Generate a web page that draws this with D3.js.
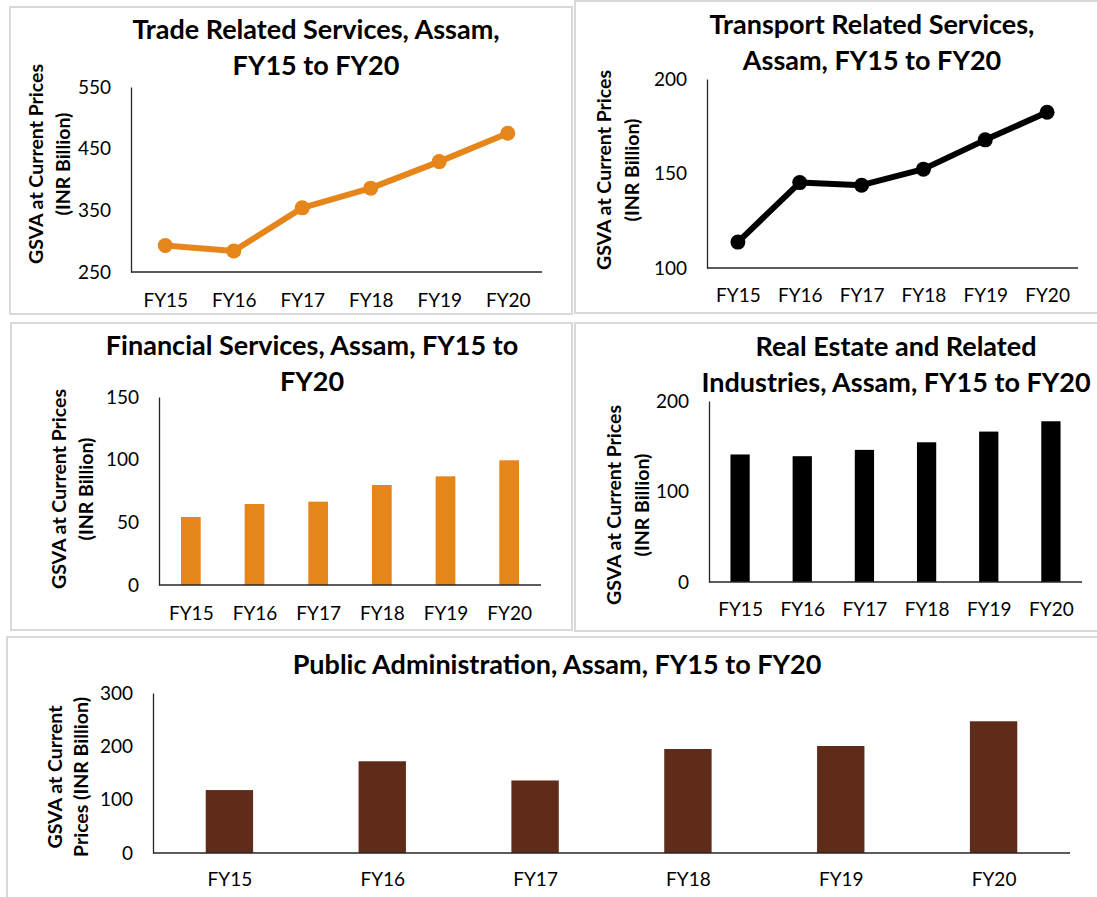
<!DOCTYPE html>
<html>
<head>
<meta charset="utf-8">
<script src="https://cdn.jsdelivr.net/npm/d3@7"></script>
<style>
  body { margin: 0; background: #fff; }
  svg { display: block; font-family: Lato, "Open Sans", sans-serif; }
  .tick text { font-size: 19px; fill: #000; }
  .title { font-weight: bold; font-size: 27px; fill: #000; }
  .ytitle { font-weight: bold; font-size: 19.5px; fill: #000; }
</style>
</head>
<body>
<div id="chart"></div>
<script>
// data
var years = ["FY15", "FY16", "FY17", "FY18", "FY19", "FY20"]
var trade = [293, 284, 354, 386, 429, 475]
var transport = [113.7, 145.2, 143.8, 152.3, 167.8, 182.4]
var financial = [54.3, 64.6, 66.5, 79.8, 86.7, 99.5]
var realEstate = [140.9, 139, 146, 154.4, 166.2, 177.6]
var publicAdmin = [118, 172, 136, 195, 200.6, 247]

var tradeTicks = [250, 350, 450, 550]
var transportTicks = [100, 150, 200]
var financialTicks = [0, 50, 100, 150]
var realEstateTicks = [0, 100, 200]
var publicAdminTicks = [0, 100, 200, 300]

var orange = "#E6851A"
var brown = "#5E2C18"

var width = 1097
var height = 897

var svg = d3.select("#chart")
    .append("svg")
    .attr("width", width)
    .attr("height", height)

// each panel: frame, plot area, titles
var panels = [
  {
    kind: "line", values: trade, ticks: tradeTicks, color: orange,
    box: [10, 7, 562, 307],
    x0: 131, x1: 542, yTop: 87, yBot: 272,
    title: ["Trade Related Services, Assam,", "FY15 to FY20"], titleX: 316, titleY: [39, 75],
    yTitle: ["GSVA at Current Prices", "(INR Billion)"], yTitleX: [36, 63], yTitleY: 164,
    labelY: 307
  },
  {
    kind: "line", values: transport, ticks: transportTicks, color: "#000",
    box: [575, 1, 530, 312],
    x0: 707, x1: 1078, yTop: 79, yBot: 268,
    title: ["Transport Related Services,", "Assam, FY15 to FY20"], titleX: 872, titleY: [34, 70],
    yTitle: ["GSVA at Current Prices", "(INR Billion)"], yTitleX: [604, 632], yTitleY: 170,
    labelY: 302
  },
  {
    kind: "bar", values: financial, ticks: financialTicks, color: orange,
    box: [11, 323, 561, 307],
    x0: 159, x1: 541, yTop: 397, yBot: 585,
    title: ["Financial Services, Assam, FY15 to", "FY20"], titleX: 312, titleY: [355, 391],
    yTitle: ["GSVA at Current Prices", "(INR Billion)"], yTitleX: [59, 86], yTitleY: 489,
    labelY: 620
  },
  {
    kind: "bar", values: realEstate, ticks: realEstateTicks, color: "#000",
    box: [575, 323, 530, 308],
    x0: 709, x1: 1082, yTop: 401, yBot: 582,
    title: ["Real Estate and Related", "Industries, Assam, FY15 to FY20"], titleX: 896, titleY: [356, 392],
    yTitle: ["GSVA at Current Prices", "(INR Billion)"], yTitleX: [614, 642], yTitleY: 505,
    labelY: 616
  },
  {
    kind: "bar", values: publicAdmin, ticks: publicAdminTicks, color: brown,
    box: [7, 637, 1100, 270],
    x0: 153, x1: 1070, yTop: 693, yBot: 853,
    title: ["Public Administration, Assam, FY15 to FY20"], titleX: 557, titleY: [674],
    yTitle: ["GSVA at Current", "Prices (INR Billion)"], yTitleX: [55, 81], yTitleY: 777,
    labelY: 886
  }
]

panels.forEach(function(p){
    var g = svg.append("g")

    g.append("rect")
        .attr("x", p.box[0])
        .attr("y", p.box[1])
        .attr("width", p.box[2])
        .attr("height", p.box[3])
        .attr("fill", "none")
        .attr("stroke", "#d9d9d9")
        .attr("stroke-width", 2)

    var yScale = d3.scaleLinear()
        .domain([p.ticks[0], p.ticks[p.ticks.length - 1]])
        .range([p.yBot, p.yTop])

    var xScale = d3.scaleBand()
        .domain(years)
        .range([p.x0, p.x1])
        .paddingInner(0.69)
        .paddingOuter(0.345)

    var xPoint = d3.scalePoint()
        .domain(years)
        .range([p.x0, p.x1])
        .padding(0.5)

    // marks first, axes on top
    if (p.kind === "bar") {
        g.selectAll("rect.bar")
            .data(p.values)
            .enter()
            .append("rect")
            .attr("class", "bar")
            .attr("x", function(d, i){ return xScale(years[i]) })
            .attr("width", xScale.bandwidth())
            .attr("y", function(d){ return yScale(d) })
            .attr("height", function(d){ return p.yBot - yScale(d) })
            .attr("fill", p.color)
    } else {
        var line = d3.line()
            .x(function(d, i){ return xPoint(years[i]) })
            .y(function(d){ return yScale(d) })
        g.append("path")
            .datum(p.values)
            .attr("d", line)
            .attr("fill", "none")
            .attr("stroke", p.color)
            .attr("stroke-width", 6)
            .attr("stroke-linejoin", "round")
        g.selectAll("circle")
            .data(p.values)
            .enter()
            .append("circle")
            .attr("cx", function(d, i){ return xPoint(years[i]) })
            .attr("cy", function(d){ return yScale(d) })
            .attr("r", 7.5)
            .attr("fill", p.color)
    }

    var yAxis = d3.axisLeft(yScale)
        .tickValues(p.ticks)
        .tickSize(0)
        .tickPadding(20)
    var yG = g.append("g")
        .attr("transform", "translate(" + p.x0 + ",0)")
        .call(yAxis)
        .attr("font-family", null)
        .attr("font-size", null)
    yG.select(".domain").attr("stroke", "#262626").attr("stroke-width", 1.3)

    var xAxis = d3.axisBottom(xPoint).tickSize(0)
    var xG = g.append("g")
        .attr("transform", "translate(0," + p.yBot + ")")
        .call(xAxis)
        .attr("font-family", null)
        .attr("font-size", null)
    xG.select(".domain").attr("d", "M" + p.x0 + ",0H" + p.x1)
        .attr("stroke", "#262626").attr("stroke-width", 1.3)
    xG.selectAll("text")
        .attr("y", p.labelY - p.yBot)
        .attr("dy", 0)

    g.selectAll("text.title")
        .data(p.title)
        .enter()
        .append("text")
        .attr("class", "title")
        .attr("x", p.titleX)
        .attr("y", function(d, i){ return p.titleY[i] })
        .attr("text-anchor", "middle")
        .text(function(d){ return d })

    p.yTitle.forEach(function(t, i){
        g.append("text")
            .attr("class", "ytitle")
            .attr("text-anchor", "middle")
            .attr("dy", "0.35em")
            .attr("transform", "translate(" + p.yTitleX[i] + "," + p.yTitleY + ") rotate(-90)")
            .text(t)
    })
})
</script>
</body>
</html>
